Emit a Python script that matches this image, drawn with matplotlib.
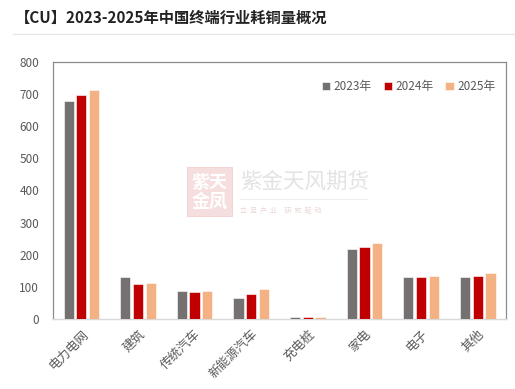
import matplotlib
matplotlib.use("Agg")
import matplotlib.pyplot as plt
from matplotlib.patches import Rectangle
import numpy as np

plt.rcParams['font.family'] = ['Noto Sans CJK SC', 'DejaVu Sans']

categories = ["电力电网", "建筑", "传统汽车", "新能源汽车", "充电桩", "家电", "电子", "其他"]
series_names = ["2023年", "2024年", "2025年"]
v2023 = [680, 130, 86, 66, 5, 217, 130, 130]
v2024 = [698, 109, 84, 77, 7, 224, 130, 134]
v2025 = [713, 111, 86, 92, 6, 236, 134, 142]
colors = ["#767171", "#C00000", "#F4B183"]
yticks = [0, 100, 200, 300, 400, 500, 600, 700, 800]

W, H = 515, 389
fig = plt.figure(figsize=(W / 100, H / 100), dpi=100)
ax = fig.add_axes([0.103, 0.18, 0.8795, 0.6606])

x = np.arange(len(categories))
w = 0.18
step = 0.225
for i, (vals, name, c) in enumerate(zip([v2023, v2024, v2025], series_names, colors)):
    ax.bar(x + (i - 1) * step, vals, width=w, color=c, label=name,
           edgecolor="white", linewidth=0.4, zorder=3)

ax.set_xlim(-0.5, len(categories) - 0.5)
ax.set_ylim(0, 800)
ax.set_yticks(yticks)
ax.set_xticks(x)
ax.set_xticklabels(categories, rotation=45, ha="right", rotation_mode="anchor",
                   fontsize=9, color="#595959")
ax.tick_params(axis="y", labelsize=8.5, labelcolor="#595959", length=0, pad=10)
ax.tick_params(axis="x", length=0, pad=6)
for s in ["left", "top", "right"]:
    ax.spines[s].set_color("#8c8c8c")
    ax.spines[s].set_linewidth(0.9)
ax.spines["bottom"].set_color("#d9d9d9")
ax.spines["bottom"].set_linewidth(1.0)

leg = ax.legend(loc="upper right", ncol=3, frameon=False, fontsize=8.5,
                handlelength=0.7, handleheight=0.7, handletextpad=0.3,
                columnspacing=1.0, bbox_to_anchor=(1.0, 0.97))
for t in leg.get_texts():
    t.set_color("#595959")

# watermark (figure pixel coords converted to fractions)
def fx(px):
    return px / W

def fy(py):
    return 1 - py / H

fig.add_artist(Rectangle((fx(187), fy(216)), fx(232) - fx(187), fy(167) - fy(216),
                         transform=fig.transFigure, facecolor="#f7dede",
                         edgecolor="#f0d0d0", lw=0.6, zorder=0.5))
fig.text(fx(209.5), fy(191.5), "紫天\n金凤", fontsize=13, color="white",
         ha="center", va="center", fontweight="bold", linespacing=1.0, zorder=1)
fig.text(fx(240), fy(182), "紫金天风期货", fontsize=15.5, color="#e3e3e3",
         ha="left", va="center", zorder=1)
fig.add_artist(plt.Line2D([fx(240), fx(367)], [fy(199), fy(199)],
                          color="#ededed", lw=0.6, transform=fig.transFigure))
fig.text(fx(240), fy(211), "立  足  产  业     研  究  驱  动", fontsize=5,
         color="#ebd6d6", ha="left", va="center", zorder=1)

fig.text(0.028, 0.955, "【CU】2023-2025年中国终端行业耗铜量概况", fontsize=11,
         fontweight="bold", color="#222222", ha="left", va="center")
fig.add_artist(plt.Line2D([0.025, 1.0], [0.912, 0.912], color="#e6e6e6", lw=1.0))

fig.savefig("out.png", dpi=100)
